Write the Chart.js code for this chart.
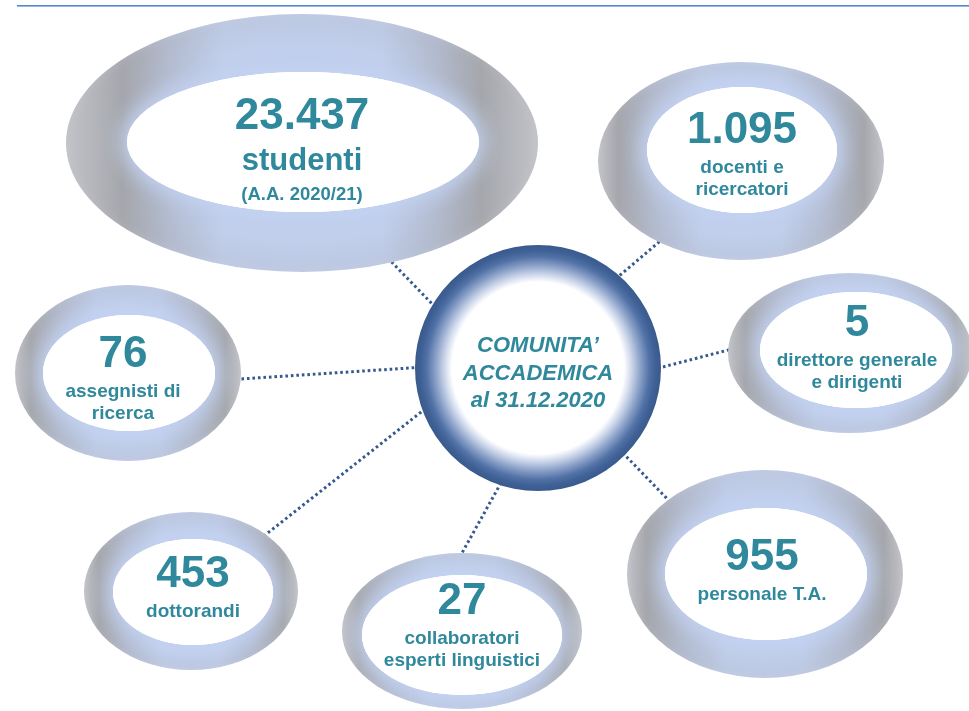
<!DOCTYPE html>
<html>
<head>
<meta charset="utf-8">
<script src="https://cdn.jsdelivr.net/npm/chart.js@4.4.1/dist/chart.umd.min.js"></script>
<style>
  html, body { margin: 0; padding: 0; background: #ffffff; }
  #wrap { width: 969px; height: 711px; position: relative; }
</style>
</head>
<body>
<div id="wrap"><canvas id="c"></canvas></div>
<script>
// ---- DATA ----
const categories = ['studenti', 'docenti e ricercatori', 'direttore generale e dirigenti', 'assegnisti di ricerca', 'dottorandi', 'collaboratori esperti linguistici', 'personale T.A.'];
const values = [23437, 1095, 5, 76, 453, 27, 955];
const labelLines = [['studenti'], ['docenti e', 'ricercatori'], ['direttore generale', 'e dirigenti'], ['assegnisti di', 'ricerca'], ['dottorandi'], ['collaboratori', 'esperti linguistici'], ['personale T.A.']];
const notes = ['(A.A. 2020/21)', '', '', '', '', '', ''];
const centerTitle = ['COMUNITA\u2019', 'ACCADEMICA', 'al 31.12.2020'];

// ---- LAYOUT (positions/sizes, in scale units) ----
const layout = [
  { x: 302, y: 143, rx: 236, ry: 129, ix: 303, iy: 142, irx: 176, iry: 70, tx: 302, tb: 129, big: true },
  { x: 741, y: 161, rx: 143, ry: 99, ix: 742, iy: 150, irx: 95, iry: 63, tx: 742, tb: 143 },
  { x: 850, y: 353, rx: 122, ry: 80, ix: 856, iy: 350, irx: 96, iry: 58, tx: 857, tb: 336 },
  { x: 128, y: 373, rx: 113, ry: 88, ix: 129, iy: 373, irx: 86, iry: 58, tx: 123, tb: 367 },
  { x: 191, y: 591, rx: 107, ry: 79, ix: 193, iy: 592, irx: 80, iry: 53, tx: 193, tb: 587 },
  { x: 462, y: 631, rx: 120, ry: 78, ix: 462, iy: 635, irx: 100, iry: 60, tx: 462, tb: 614 },
  { x: 765, y: 574, rx: 138, ry: 104, ix: 766, iy: 574, irx: 101, iry: 66, tx: 762, tb: 570 }
];
const hub = { x: 538, y: 368, r: 123, ir: 86 };
const connectors = [
  [[380, 250], [440, 312]],
  [[672, 231], [612, 282]],
  [[740, 347], [655, 369]],
  [[225, 380], [425, 367]],
  [[255, 543], [425, 409]],
  [[457, 562], [502, 481]],
  [[678, 510], [620, 450]]
];
const topRule = { x0: 17, x1: 969, y: 6 };

const TEXT = '#2f889c';
const FONT = '"Liberation Sans", Arial, Helvetica, sans-serif';
function fmt(n) { return String(n).replace(/\B(?=(\d{3})+(?!\d))/g, '.'); }

const datasets = [];
connectors.forEach((c, i) => datasets.push({
  label: 'link ' + categories[i], data: c.map(p => ({ x: p[0], y: p[1] })), showLine: true,
  borderColor: '#35598f', borderWidth: 3, borderDash: [2.6, 2.9], borderCapStyle: 'butt',
  pointRadius: 0, pointHoverRadius: 0
}));
const BUB = datasets.length;
datasets.push({
  label: 'comunità', data: layout.map((l, i) => ({ x: l.x, y: l.y, v: values[i] })),
  pointRadius: 0, pointHoverRadius: 0, showLine: false
});
const HUB = datasets.length;
datasets.push({ label: 'hub', data: [{ x: hub.x, y: hub.y }], pointRadius: 0, pointHoverRadius: 0, showLine: false });

function ellipse(ctx, x, y, rx, ry) { ctx.beginPath(); ctx.ellipse(x, y, rx, ry, 0, 0, Math.PI * 2); ctx.closePath(); }

const ringPlugin = {
  id: 'rings',
  beforeDatasetsDraw(chart) {
    const ctx = chart.ctx, xs = chart.scales.x, ys = chart.scales.y;
    const x0 = xs.getPixelForValue(topRule.x0), x1 = xs.getPixelForValue(topRule.x1);
    const y = Math.round(ys.getPixelForValue(topRule.y));
    ctx.save();
    ctx.fillStyle = '#5289cc';
    ctx.fillRect(x0, y - 1, x1 - x0, 1.6);
    ctx.restore();
  },
  afterDatasetsDraw(chart) {
    const ctx = chart.ctx, xs = chart.scales.x, ys = chart.scales.y;
    const px = v => xs.getPixelForValue(v), py = v => ys.getPixelForValue(v);

    // hub
    const hp = chart.getDatasetMeta(HUB).data[0];
    const hr = px(hub.x + hub.r) - hp.x, hir = px(hub.x + hub.ir) - hp.x;
    ctx.save();
    const rg = ctx.createRadialGradient(hp.x, hp.y, hir, hp.x, hp.y, hr);
    rg.addColorStop(0, '#ffffff');
    rg.addColorStop(0.18, '#d3dcee');
    rg.addColorStop(0.45, '#8ba1c8');
    rg.addColorStop(0.68, '#5373a7');
    rg.addColorStop(0.85, '#3f6196');
    rg.addColorStop(1, '#395a8d');
    ctx.beginPath(); ctx.arc(hp.x, hp.y, hr, 0, Math.PI * 2); ctx.fillStyle = rg; ctx.fill();
    ctx.beginPath(); ctx.arc(hp.x, hp.y, hir, 0, Math.PI * 2); ctx.fillStyle = '#ffffff'; ctx.fill();
    ctx.fillStyle = TEXT; ctx.textAlign = 'center'; ctx.textBaseline = 'alphabetic';
    ctx.font = 'italic bold 22px ' + FONT;
    const baseC = py(hub.y - 16);
    centerTitle.forEach((t, k) => ctx.fillText(t, hp.x, baseC + k * 27.5));
    ctx.restore();

    // bubbles
    chart.getDatasetMeta(BUB).data.forEach((pt, i) => {
      const L = layout[i];
      const cx = pt.x, cy = pt.y;
      const rx = px(L.x + L.rx) - cx, ry = py(L.y + L.ry) - cy;
      const ix = px(L.ix), iy = py(L.iy);
      const irx = px(L.ix + L.irx) - ix, iry = py(L.iy + L.iry) - iy;
      ctx.save();
      const g = ctx.createLinearGradient(cx - rx, 0, cx + rx, 0);
      const a = L.big ? 0.12 : 0.07, m = L.big ? 0.22 : 0.2, b = L.big ? 0.33 : 0.36;
      g.addColorStop(0, '#c5c7cc');
      g.addColorStop(a, '#a4a6ab');
      g.addColorStop(m, '#b4bdd2');
      g.addColorStop(b, '#c1cfec');
      g.addColorStop(1 - b, '#c1cfec');
      g.addColorStop(1 - m, '#b4bdd2');
      g.addColorStop(1 - a, '#a4a6ab');
      g.addColorStop(1, '#c5c7cc');
      ellipse(ctx, cx, cy, rx, ry); ctx.fillStyle = g; ctx.fill();
      // light grey rim
      ctx.save();
      ellipse(ctx, cx, cy, rx, ry); ctx.clip();
      ctx.translate(cx, cy); ctx.scale(1, ry / rx);
      const rr = ctx.createRadialGradient(0, 0, rx * 0.75, 0, 0, rx);
      rr.addColorStop(0, 'rgba(168,170,176,0)');
      rr.addColorStop(0.8, 'rgba(168,170,176,0.16)');
      rr.addColorStop(1, 'rgba(190,192,198,0.25)');
      ctx.beginPath(); ctx.arc(0, 0, rx, 0, Math.PI * 2); ctx.fillStyle = rr; ctx.fill();
      ctx.restore();
      // bluish halo around the white centre
      ctx.save();
      ellipse(ctx, cx, cy, rx, ry); ctx.clip();
      ctx.shadowColor = 'rgba(196,211,243,1)'; ctx.shadowBlur = 24;
      ellipse(ctx, ix, iy, irx, iry); ctx.fillStyle = '#ffffff'; ctx.fill();
      ctx.fill();
      ctx.restore();
      ellipse(ctx, ix, iy, irx, iry); ctx.fillStyle = '#ffffff'; ctx.fill();

      // text
      const tx = px(L.tx), tb = py(L.tb);
      ctx.fillStyle = TEXT; ctx.textAlign = 'center'; ctx.textBaseline = 'alphabetic';
      ctx.font = 'bold 44px ' + FONT;
      ctx.fillText(fmt(values[i]), tx, tb);
      let y = tb;
      if (L.big) {
        ctx.font = 'bold 31px ' + FONT;
        y += 41; ctx.fillText(labelLines[i][0], tx, y);
        ctx.font = 'bold 18.5px ' + FONT;
        y += 30; ctx.fillText(notes[i], tx, y);
      } else {
        ctx.font = 'bold 19px ' + FONT;
        labelLines[i].forEach((t, k) => { y += (k === 0 ? 30 : 22); ctx.fillText(t, tx, y); });
      }
      ctx.restore();
    });
  }
};

new Chart(document.getElementById('c'), {
  type: 'scatter',
  data: { datasets },
  options: {
    responsive: true, maintainAspectRatio: false, animation: false,
    layout: { padding: 0 },
    plugins: { legend: { display: false }, tooltip: { enabled: false } },
    events: [],
    scales: {
      x: { type: 'linear', min: 0, max: 969, display: false },
      y: { type: 'linear', min: 0, max: 711, reverse: true, display: false }
    }
  },
  plugins: [ringPlugin]
});
</script>
</body>
</html>
